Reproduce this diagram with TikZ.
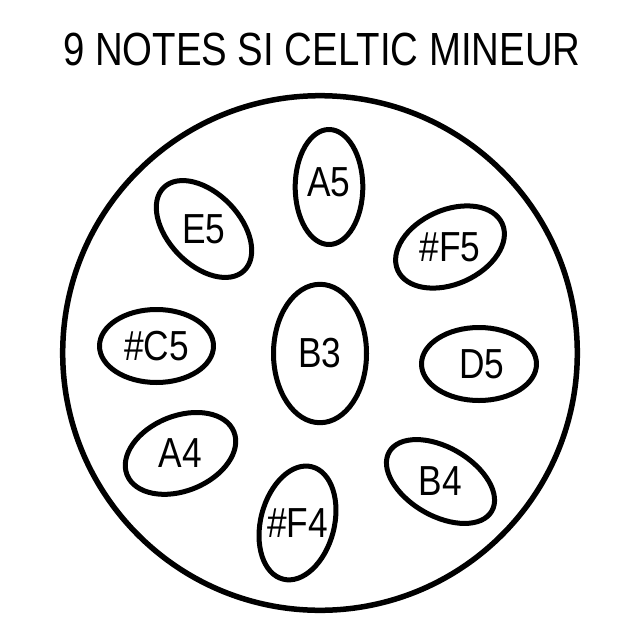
\documentclass[tikz,border=0pt]{standalone}
\usepackage{fontspec}
\setmainfont{Liberation Sans}
\newfontfamily\headfont[FakeStretch=0.825]{Liberation Sans}
\newfontfamily\notefont[FakeStretch=0.84]{Liberation Sans}

\begin{document}
\begin{tikzpicture}
  [x=1pt, y=-1pt, line join=round,
  % STYLES
  every node/.style={inner sep=0pt},
  % The heading style is used for the title on top
  heading/.style={font=\headfont\fontsize{46.5}{50}\selectfont},
  % The note style is used to print the name of each note
  note/.style={font=\notefont\fontsize{42}{46}\selectfont},
  % The hole style is used to draw the outline of a note field
  hole/.style={draw, line width=5pt},
  % The shell style is used for the body of the drum
  shell/.style={draw, line width=5.5pt}]

  \useasboundingbox (0,0) rectangle (640,640);

  % Title
  \node [heading] (title) at (321.8,49.4) {9 NOTES SI CELTIC MINEUR};

  % Draw the shell
  \coordinate (centre) at (320,353);
  \draw [shell] (centre) circle [radius=257.3pt];

  %%%%%%%%%%%%%%%
  % Notes
  \node [note] (b3) at (320,353.5) {B3};
  \node [note] (a5) at (329,182) {A5};
  \node [note] (e5) at (204,229) {E5};
  \node [note] (fSharp5) at (450,247) {\#F5};
  \node [note] (cSharp5) at (156.5,346) {\#C5};
  \node [note] (d5) at (482,364) {D5};
  \node [note] (a4) at (180.5,453.4) {A4};
  \node [note] (b4) at (440.5,481.5) {B4};
  \node [note] (fSharp4) at (297.5,523) {\#F4};

  %%%%%%%%%%%%%%%
  % Draw the holes round the notes
  \draw [hole] (b3.center) ellipse [x radius=46.5pt, y radius=69.2pt];
  \draw [hole] ([yshift=-5pt]a5.center) ellipse [x radius=33.8pt, y radius=57.5pt];
  \draw [hole, rotate around={-46:(e5.center)}] (e5.center) ellipse [x radius=57.8pt, y radius=35.8pt];
  \draw [hole, rotate around={24:(fSharp5.center)}] (fSharp5.center) ellipse [x radius=57.2pt, y radius=37.1pt];
  \draw [hole] (cSharp5.center) ellipse [x radius=57pt, y radius=36.5pt];
  \draw [hole] ([xshift=-3pt]d5.center) ellipse [x radius=57.5pt, y radius=36.5pt];
  \draw [hole, rotate around={22:(a4.center)}] (a4.center) ellipse [x radius=57.6pt, y radius=37.5pt];
  \draw [hole, rotate around={-30:(b4.center)}] (b4.center) ellipse [x radius=59.2pt, y radius=34.3pt];
  \draw [hole, rotate around={-14.5:(fSharp4.center)}] (fSharp4.center) ellipse [x radius=36.8pt, y radius=58pt];

\end{tikzpicture}
\end{document}
